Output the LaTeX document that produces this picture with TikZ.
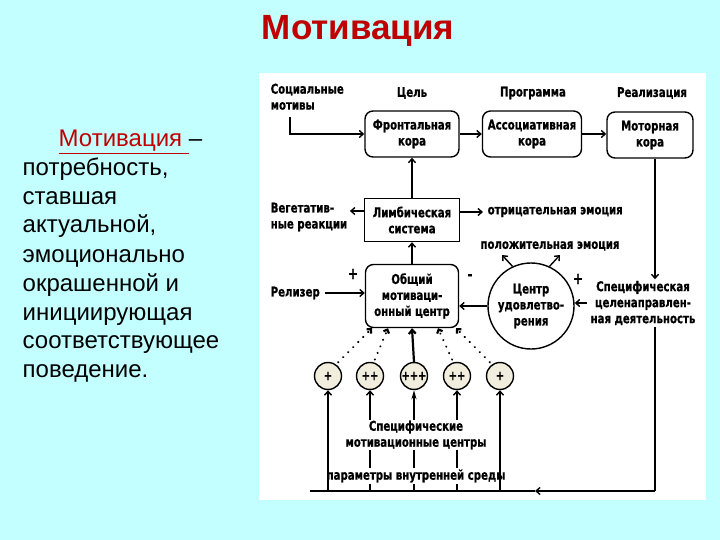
\documentclass[tikz,border=0pt]{standalone}
\usepackage{fontspec}
\setmainfont{Liberation Sans}
\newfontfamily\dfont[FakeStretch=0.76,BoldFeatures={FakeBold=0.8}]{DejaVu Sans}
\usetikzlibrary{arrows.meta}
\definecolor{bgcyan}{RGB}{195,255,255}
\definecolor{titlered}{RGB}{192,0,0}
\definecolor{beige}{RGB}{242,238,222}
\begin{document}
\begin{tikzpicture}[x=1pt,y=-1pt,line width=1.4pt,
  arr/.style={-{Straight Barb[length=4pt,width=7pt]}},
  lbl/.style={font=\dfont\bfseries\fontsize{13.4}{16}\selectfont,align=center,inner sep=1pt},
  lbll/.style={lbl,align=left},
  rbox/.style={lbl,draw,rounded corners=8pt,minimum height=46pt},
  sbox/.style={lbl,draw,minimum width=95pt,minimum height=43pt},
  smallc/.style={draw,circle,fill=beige,minimum size=27pt,inner sep=0pt,
     font=\dfont\bfseries\fontsize{13}{13}\selectfont},
  dotarr/.style={-{Straight Barb[length=3pt,width=6pt]},line width=2.2pt,
     dash pattern=on 0.1pt off 7pt,line cap=round},
  lefttext/.style={anchor=base west,inner sep=0pt,font=\fontsize{24}{28}\selectfont}]
\fill[bgcyan] (0,0) rectangle (720,540);
\useasboundingbox (0,0) rectangle (720,540);
% title
\node[text=titlered,font=\bfseries\fontsize{35}{40}\selectfont] (title) at (358,31) {Мотивация};
% left text
\node[lefttext] (t1) at (58,147) {\textcolor{titlered}{\underline{Мотивация~}}–};
\node[lefttext] (t2) at (22,176) {потребность,};
\node[lefttext] (t3) at (22,205) {ставшая};
\node[lefttext] (t4) at (22,233) {актуальной,};
\node[lefttext] (t5) at (22,262) {эмоционально};
\node[lefttext] (t6) at (22,291) {окрашенной и};
\node[lefttext] (t7) at (22,320) {инициирующая};
\node[lefttext] (t8) at (22,348) {соответствующее};
\node[lefttext] (t9) at (22,377) {поведение.};
% diagram panel
\fill[white] (259,73) rectangle (706,500);
% top row
\node[lbl] (goal) at (412,93) {Цель};
\node[lbl] (prog) at (533,93) {Программа};
\node[lbl] (real) at (652,93) {Реализация};
\node[rbox,minimum width=94pt] (front) at (412,134) {Фронтальная\\кора};
\node[rbox,minimum width=99pt] (assoc) at (532,134) {Ассоциативная\\кора};
\node[rbox,minimum width=86pt] (motor) at (650,135) {Моторная\\кора};
\node[lbll,anchor=north west] (social) at (269,82) {Социальные\\мотивы};
\coordinate (s1) at (290,117);
\draw[arr] (s1) |- (front.west);
\draw[arr] (front.east) -- (assoc.west);
\draw[arr] (assoc.east) -- (motor.west |- assoc.east);
% limbic row
\node[sbox] (limbic) at (412,220) {Лимбическая\\система};
\draw[arr] (limbic) -- (front);
\node[lbll,anchor=west] (veg) at (269,217) {Вегетатив-\\ные реакции};
\draw[arr,shorten >=1pt] ([yshift=9pt]limbic.west) -- ([yshift=9pt]limbic.west -| veg.east);
\node[lbl,anchor=west] (neg) at (486,212) {отрицательная эмоция};
\draw[arr,shorten >=3pt] ([yshift=8pt]limbic.east) -- (neg.west);
\node[lbl] (pos) at (550,246) {положительная эмоция};
% general motivation centre
\node[rbox,minimum width=93pt,minimum height=63pt] (gmc) at (412,296) {Общий\\мотиваци-\\онный центр};
\draw[arr] (gmc) -- (limbic);
\node[lbl] (plus1) at (353,274) {\fontsize{16}{16}\selectfont +};
\node[lbl] (minus1) at (470,277) {\fontsize{16}{16}\selectfont -};
\node[lbl,anchor=west] (rel) at (269,293) {Релизер};
\draw[arr,shorten <=4pt] (rel.east) -- (gmc.west |- rel.east);
% satisfaction centre
\node[lbl,draw,circle,minimum size=86pt,inner sep=0pt] (sat) at (531,306) {Центр\\удовлетво-\\рения};
\draw[arr] (sat.west) -- (gmc.east |- sat.west);
\coordinate (ep1) at (502,255);
\coordinate (ep2) at (560,255);
\draw[arr] (sat.115) -- (ep1);
\draw[arr] (sat.65) -- (ep2);
\node[lbl] (plus2) at (578,279) {\fontsize{16}{16}\selectfont +};
\node[lbl] (spec) at (643,303) {Специфическая\\целенаправлен-\\ная деятельность};
\draw[arr] ([xshift=5pt]motor.south) -- ([xshift=5pt]motor.south |- spec.north);
\draw[arr,shorten <=2pt] (spec.west) -- (spec.west -| sat.east);
% bottom loop
\coordinate (br) at (655,491);
\coordinate (bm) at (535,491);
\coordinate (bl) at (310,491);
\draw (spec.south -| br) -- (br);
\draw[arr] (br) -- (bm);
\draw (bm) -- (bl);
% specific motivation centres
\node[smallc] (sc1) at (328,376) {+};
\node[smallc] (sc2) at (370,376) {++};
\node[smallc] (sc3) at (414,376) {+++};
\node[smallc] (sc4) at (457,376) {++};
\node[smallc] (sc5) at (500,376) {+};
\draw[arr] (sc2.south |- bl) -- (sc2.south);
\draw[arr] (sc4.south |- bl) -- (sc4.south);
\draw[line width=2.6pt,-{Stealth[length=9pt,width=5pt]}] (sc3.south |- bl) -- (sc3.south);
\node[lbl,fill=white] (smc) at (416,435) {Специфические\\мотивационные центры};
\node[lbl,fill=white,inner xsep=0pt] (par) at (416,476) {параметры внутренней среды};
\draw[arr] (sc1.south |- bl) -- (sc1.south);
\draw[arr] (sc5.south |- bl) -- (sc5.south);
% links to general centre
\draw[dotarr,shorten <=3pt] (sc1.55) -- ([xshift=-40pt]gmc.south);
\draw[dotarr,shorten <=3pt] (sc2.75) -- ([xshift=-24pt]gmc.south);
\draw[arr,line width=2.2pt] (sc3.north) -- (gmc.south);
\draw[dotarr,shorten <=3pt] (sc4.105) -- ([xshift=26pt]gmc.south);
\draw[dotarr,shorten <=3pt] (sc5.125) -- ([xshift=44pt]gmc.south);
\end{tikzpicture}
\end{document}
